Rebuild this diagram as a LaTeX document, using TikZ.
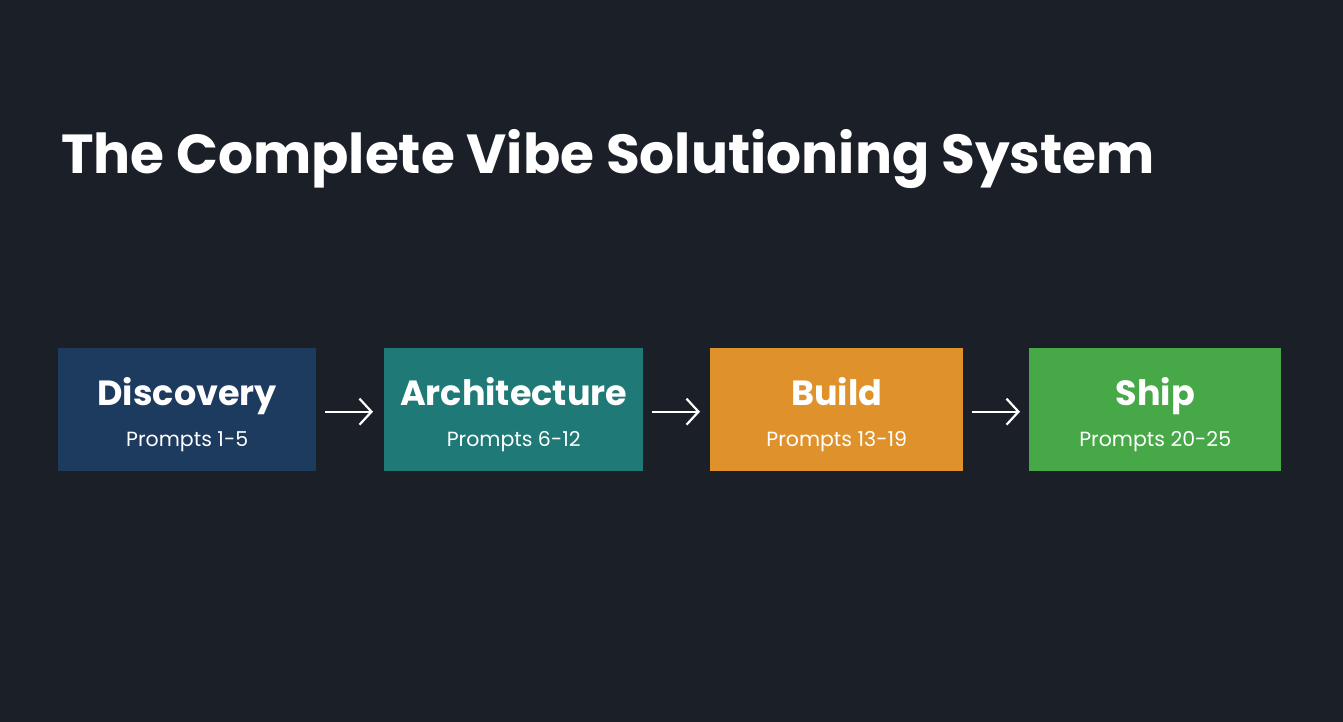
\documentclass[tikz,border=0pt]{standalone}
\usepackage{fontspec}
\setmainfont{Poppins}
\usetikzlibrary{arrows.meta}
\definecolor{bg}{HTML}{1B1F27}
\definecolor{cA}{HTML}{1D3A5F}
\definecolor{cB}{HTML}{1F7A77}
\definecolor{cC}{HTML}{DF922C}
\definecolor{cD}{HTML}{47A847}
\tikzset{
  stage/.style={minimum width=256pt,minimum height=123pt,inner sep=0pt,anchor=north west},
  ttl/.style={text=white,font=\fontsize{35}{38}\selectfont\bfseries},
  sub/.style={text=white,font=\fontsize{20.5}{24}\selectfont},
  flow/.style={draw=white,line width=2.2pt,-{Straight Barb[length=12pt,width=26pt]}}
}
\begin{document}
\begin{tikzpicture}[x=1pt,y=-1pt]
\fill[bg] (0,0) rectangle (1343,722);
\useasboundingbox (0,0) rectangle (1343,722);
\node[anchor=base west,text=white,font=\fontsize{55}{60}\selectfont\bfseries,inner sep=0pt] (title) at (61,174) {The Complete Vibe Solutioning System};
\node[stage,fill=cA,minimum width=258pt] (s1) at (58,348) {};
\node[stage,fill=cB,minimum width=259pt] (s2) at (384,348) {};
\node[stage,fill=cC,minimum width=253pt] (s3) at (710,348) {};
\node[stage,fill=cD,minimum width=252pt] (s4) at (1029,348) {};
\foreach \s/\a/\b in {s1/Discovery/Prompts 1-5,s2/Architecture/Prompts 6-12,s3/Build/Prompts 13-19,s4/Ship/Prompts 20-25}{
  \node[ttl,anchor=base] (\s t) at ([yshift=-57pt]\s.north) {\a};
  \node[sub,anchor=base] (\s p) at ([yshift=-98pt]\s.north) {\b};
}
\draw[flow] ([xshift=9pt,yshift=-2pt]s1.east) -- ([xshift=-11pt,yshift=-2pt]s2.west);
\draw[flow] ([xshift=9pt,yshift=-2pt]s2.east) -- ([xshift=-10pt,yshift=-2pt]s3.west);
\draw[flow] ([xshift=9pt,yshift=-2pt]s3.east) -- ([xshift=-9pt,yshift=-2pt]s4.west);
\end{tikzpicture}
\end{document}
